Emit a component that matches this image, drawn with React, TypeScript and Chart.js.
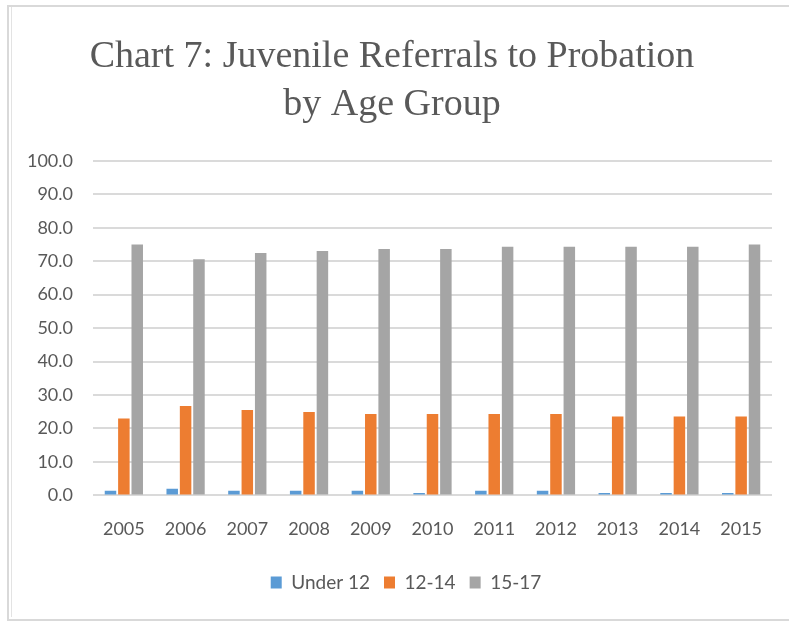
import React, { useEffect, useRef } from "react";
import { Chart, registerables } from "chart.js";

Chart.register(...registerables);

const years = ["2005", "2006", "2007", "2008", "2009", "2010", "2011", "2012", "2013", "2014", "2015"];
const under12 = [1.4, 2.0, 1.4, 1.4, 1.4, 0.7, 1.4, 1.4, 0.7, 0.7, 0.7];
const age12to14 = [23.0, 26.7, 25.5, 24.9, 24.3, 24.3, 24.3, 24.3, 23.6, 23.6, 23.6];
const age15to17 = [75.0, 70.6, 72.4, 73.0, 73.6, 73.6, 74.3, 74.3, 74.3, 74.3, 75.0];
const seriesNames = ["Under 12", "12-14", "15-17"];
const titleLines = ["Chart 7: Juvenile Referrals to Probation", "by Age Group"];

const legendShift = {
  id: "legendShift",
  beforeDraw(chart: any) {
    const lg = chart.legend;
    if (lg && !lg._shifted) {
      lg.left += 14;
      lg.right += 14;
      lg.top -= 4;
      lg.bottom -= 4;
      lg._shifted = true;
    }
  },
};

export default function App() {
  const ref = useRef<HTMLCanvasElement | null>(null);

  useEffect(() => {
    if (!ref.current) return;
    const font = "Lato, 'Open Sans', sans-serif";
    const chart = new Chart(ref.current, {
      type: "bar",
      data: {
        labels: years,
        datasets: [
          { label: seriesNames[0], data: under12, backgroundColor: "#5B9BD5" },
          { label: seriesNames[1], data: age12to14, backgroundColor: "#ED7D31" },
          { label: seriesNames[2], data: age15to17, backgroundColor: "#A5A5A5" },
        ],
      },
      plugins: [legendShift],
      options: {
        responsive: false,
        animation: false,
        layout: { padding: { left: 0, right: 17, top: 0, bottom: 10 } },
        datasets: { bar: { categoryPercentage: 0.65, barPercentage: 0.86 } },
        plugins: {
          title: {
            display: true,
            text: titleLines,
            color: "#595959",
            font: { family: "'Liberation Serif', 'Times New Roman', serif", size: 38, weight: "normal", lineHeight: 1.26 },
            padding: { top: 25, bottom: 32 },
          },
          legend: {
            position: "bottom",
            labels: {
              color: "#595959",
              font: { family: font, size: 19 },
              boxWidth: 11,
              boxHeight: 12,
              padding: 14,
            },
          },
          tooltip: { enabled: false },
        },
        scales: {
          x: {
            grid: { display: false, drawTicks: false },
            border: { display: false },
            ticks: { color: "#595959", font: { family: font, size: 18 }, padding: 23 },
          },
          y: {
            min: 0,
            max: 100,
            grid: { color: "#DADADA", lineWidth: 2, drawTicks: false },
            border: { display: false },
            ticks: {
              stepSize: 10,
              color: "#595959",
              font: { family: font, size: 18 },
              padding: 20,
              callback: (v: any) => Number(v).toFixed(1),
            },
            afterFit: (scale: any) => {
              scale.width = 81;
            },
          },
        },
      },
    });
    return () => chart.destroy();
  }, []);

  return (
    <div style={{ position: "absolute", left: 0, top: 0, width: 789, height: 621, background: "#fff", overflow: "hidden" }}>
      <div
        style={{
          position: "absolute",
          left: 7,
          top: 5,
          width: 800,
          height: 612,
          borderTop: "2px solid #D9D9D9",
          borderLeft: "2px solid #D9D9D9",
          borderBottom: "2px solid #D9D9D9",
        }}
      />
      <div style={{ position: "absolute", left: 11, top: 7, width: 1, height: 610, background: "#E3E3E3" }} />
      <canvas ref={ref} width={777} height={608} style={{ position: "absolute", left: 12, top: 8 }} />
    </div>
  );
}
